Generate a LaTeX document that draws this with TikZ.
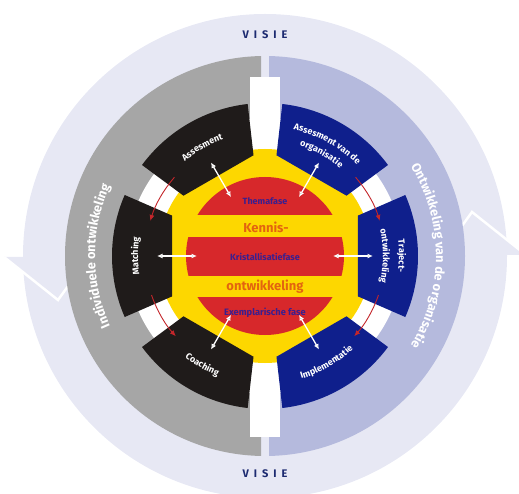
\documentclass[tikz,border=0pt]{standalone}
\usepackage{fontspec}
\setmainfont{Fira Sans}
\usetikzlibrary{arrows.meta,decorations.text}
\definecolor{ringlight}{HTML}{E7E8F4}
\definecolor{ringmid}{HTML}{B5BADD}
\definecolor{ringgrey}{HTML}{A6A6A6}
\definecolor{segblack}{HTML}{1F1B1A}
\definecolor{segblue}{HTML}{0F1F8C}
\definecolor{coreyellow}{HTML}{FDD700}
\definecolor{corered}{HTML}{D7282B}
\definecolor{txtorange}{HTML}{E3640F}
\definecolor{txtpurple}{HTML}{3A1F8F}
\definecolor{txtnavy}{HTML}{1C2A70}
\definecolor{arrred}{HTML}{C4262B}
\newcommand\mysegfont{\fontsize{9}{10}\selectfont\bfseries}
\newcommand\myringfont{\fontsize{12.8}{14}\selectfont\bfseries}
\begin{document}
\begin{tikzpicture}[x=1pt,y=1pt,
  whitearrow/.style={draw=white,line width=1.3pt,{Latex[length=5.5pt,width=5pt]}-{Latex[length=5.5pt,width=5pt]}},
  redarrow/.style={draw=arrred,line width=0.9pt,-{Latex[length=6pt,width=5pt]}},
  segtext/.style={decorate,decoration={text along path,text align=center,text color=white,text={|\mysegfont|#1}}},
  ringtext/.style={decorate,decoration={text along path,text align=center,text color=white,text={|\myringfont|#1}}},
  coretext/.style={font=\fontsize{9.3}{10}\selectfont\bfseries,text=txtpurple,inner sep=0pt},
  bigtext/.style={font=\fontsize{13}{15}\selectfont\bfseries,text=txtorange,inner sep=0pt},
  visie/.style={font=\fontsize{11}{13}\selectfont\bfseries,text=txtnavy,inner sep=0pt}]
\useasboundingbox (0,0) rectangle (519,493);
\begin{scope}[shift={(265,237)}]
  % outer light ring with two arrowheads
  \fill[ringlight] (0,0) circle[radius=242];
  \fill[ringlight] (-261,-1) -- (-207,-44) -- (-176,-1) -- cycle;
  \fill[ringlight] (261,1) -- (207,44) -- (176,1) -- cycle;
  \draw[white,line width=2.5pt] (-261,-1) -- (-207,-44) -- (-176,-1);
  \draw[white,line width=2.5pt] (261,1) -- (207,44) -- (176,1);
  % two halves
  \begin{scope}
    \clip (-300,-300) rectangle (-4,300);
    \fill[ringgrey] (0,0) circle[radius=200];
  \end{scope}
  \begin{scope}
    \clip (4,-300) rectangle (300,300);
    \fill[ringmid] (0,0) circle[radius=200];
  \end{scope}
  % white inner ring and bar
  \fill[white] (0,0) circle[radius=138];
  \fill[white] (-15,-181) rectangle (15,179);
  % ring labels
  \path[ringtext={Individuele ontwikkeling}] (215:170) arc[start angle=215,end angle=145,radius=170];
  \path[ringtext={Ontwikkeling van de organisatie}] (45:171) arc[start angle=45,end angle=-45,radius=171];
  \node[visie] (visietop) at (0,221) {V\hspace{5pt}I\hspace{5pt}S\hspace{5pt}I\hspace{5pt}E};
  \node[visie] (visiebot) at (0,-218) {V\hspace{5pt}I\hspace{5pt}S\hspace{5pt}I\hspace{5pt}E};
  % yellow disc
  \fill[coreyellow] (0,0) circle[radius=107];
  % segments
  \foreach \a/\c in {120/segblack,180/segblack,240/segblack,60/segblue,0/segblue,-60/segblue}
    \fill[\c] ({\a-23.5}:101.4) -- ({\a-23.5}:153) arc[start angle={\a-23.5},end angle={\a+23.5},radius=153] -- ({\a+23.5}:101.4) -- cycle;
  % red core with yellow bands
  \fill[corered] (0,0) circle[radius=79];
  \fill[coreyellow] (-80,19) rectangle (80,41);
  \fill[coreyellow] (-80,-41) rectangle (80,-20);
  \node[coretext,font=\fontsize{9}{10}\selectfont\bfseries] (thema) at (0,55) {Themafase};
  \node[bigtext] (kennis) at (1,29) {Kennis-};
  \node[coretext,font=\fontsize{9}{10}\selectfont\bfseries] (krist) at (0,-1) {Kristallisatiefase};
  \node[bigtext] (ontw) at (0,-31) {ontwikkeling};
  \node[coretext] (exempl) at (0,-57) {Exemplarische fase};
  % segment labels
  \path[segtext={Assesment}] (150:124) arc[start angle=150,end angle=90,radius=124];
  \path[segtext={Matching}] (210:127) arc[start angle=210,end angle=150,radius=127];
  \path[segtext={Coaching}] (210:129) arc[start angle=210,end angle=270,radius=129];
  \path[segtext={Assesment van de}] (92:129.5) arc[start angle=92,end angle=30,radius=129.5];
  \path[segtext={organisatie}] (92:115.5) arc[start angle=92,end angle=30,radius=115.5];
  \path[segtext={Traject-}] (30:134) arc[start angle=30,end angle=-30,radius=134];
  \path[segtext={ontwikkeling}] (30:118) arc[start angle=30,end angle=-30,radius=118];
  \path[segtext={Implementatie}] (270:128) arc[start angle=270,end angle=330,radius=128];
  % white double arrows
  \foreach \a in {0,60,120,180,240,300} {
    \coordinate (in\a) at (\a:68);
    \coordinate (out\a) at (\a:108);
    \draw[whitearrow] (in\a) -- (out\a);
  }
  % red curved arrows
  \draw[redarrow] (139:120) arc[start angle=139,end angle=163,radius=120];
  \draw[redarrow] (199:120) arc[start angle=199,end angle=222,radius=120];
  \draw[redarrow] (41:120) arc[start angle=41,end angle=17,radius=120];
  \draw[redarrow] (-19:120) arc[start angle=-19,end angle=-42,radius=120];
\end{scope}
\end{tikzpicture}
\end{document}
